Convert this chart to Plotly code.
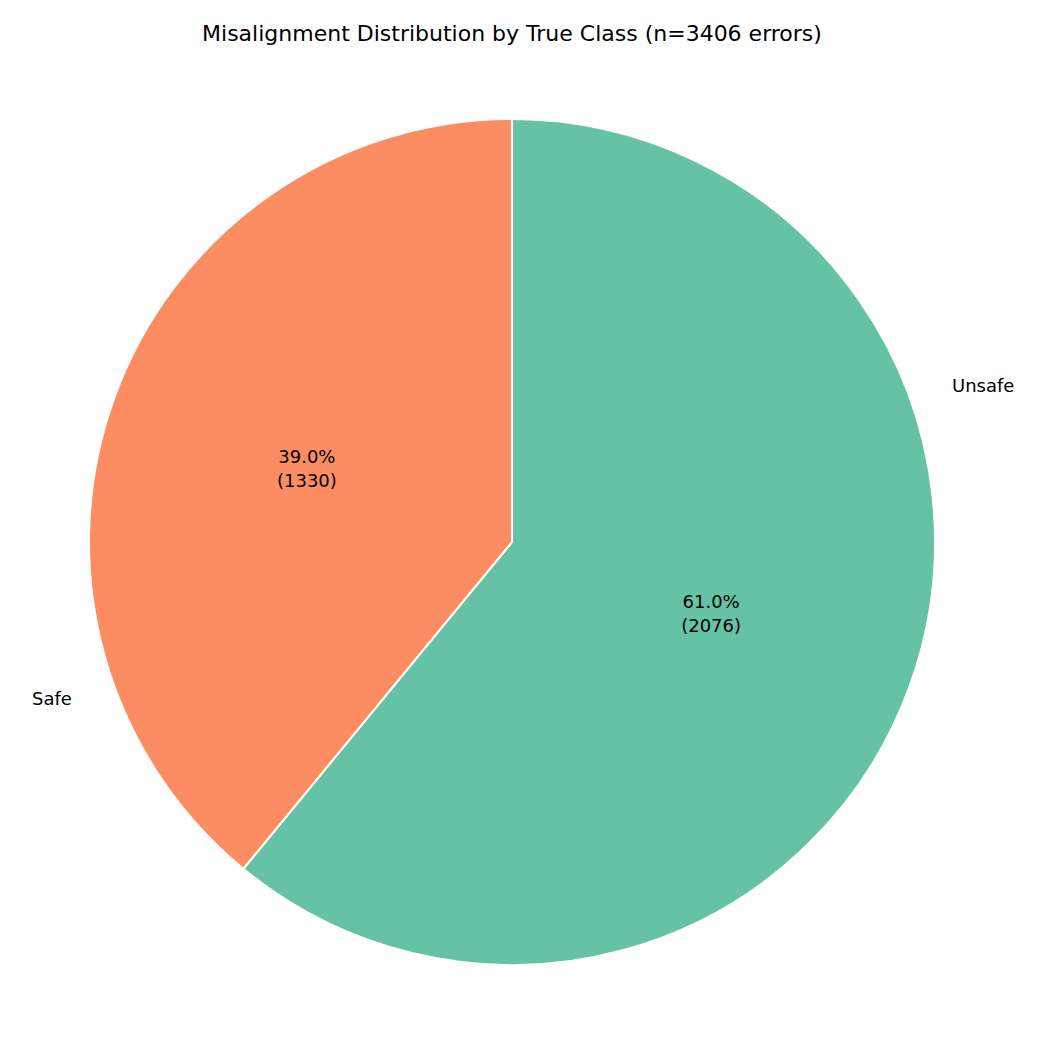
import numpy as np
import plotly.graph_objects as go

labels = ["Safe", "Unsafe"]
counts = [2076, 1330]
colors = ["#66c2a5", "#fc8d62"]

total = sum(counts)
texts = [f"{c / total * 100:.1f}%<br>({c})" for c in counts]

cx, cy, r = 504 / 1050, 516 / 1050, 423 / 1050

fig = go.Figure(
    go.Pie(
        labels=labels,
        values=counts,
        text=texts,
        textinfo="text",
        textposition="inside",
        insidetextorientation="horizontal",
        textfont=dict(size=18, color="black"),
        marker=dict(colors=colors, line=dict(color="white", width=2)),
        sort=False,
        direction="clockwise",
        rotation=0,
        domain=dict(x=[cx - r, cx + r], y=[cy - r, cy + r]),
        showlegend=False,
    )
)

# outer labels, matplotlib style at 1.1 radius (counterclockwise from top)
start = 90.0
for lab, c in zip(labels, counts):
    span = c / total * 360
    mid = np.radians(start + span / 2)
    start += span
    x = cx + 1.1 * r * np.cos(mid)
    y = cy + 1.1 * r * np.sin(mid)
    fig.add_annotation(
        x=x, y=y, xref="paper", yref="paper", text=lab, showarrow=False,
        xanchor="right" if np.cos(mid) < 0 else "left",
        font=dict(size=18, color="black"),
    )

fig.update_layout(
    width=1050,
    height=1050,
    margin=dict(l=0, r=0, t=0, b=0),
    paper_bgcolor="white",
    font=dict(family="DejaVu Sans"),
    title=dict(
        text="Misalignment Distribution by True Class (n=3406 errors)",
        x=504 / 1050, y=0.976, xanchor="center", yanchor="middle",
        font=dict(size=22, color="black"),
    ),
)

fig.write_html("out.html")
